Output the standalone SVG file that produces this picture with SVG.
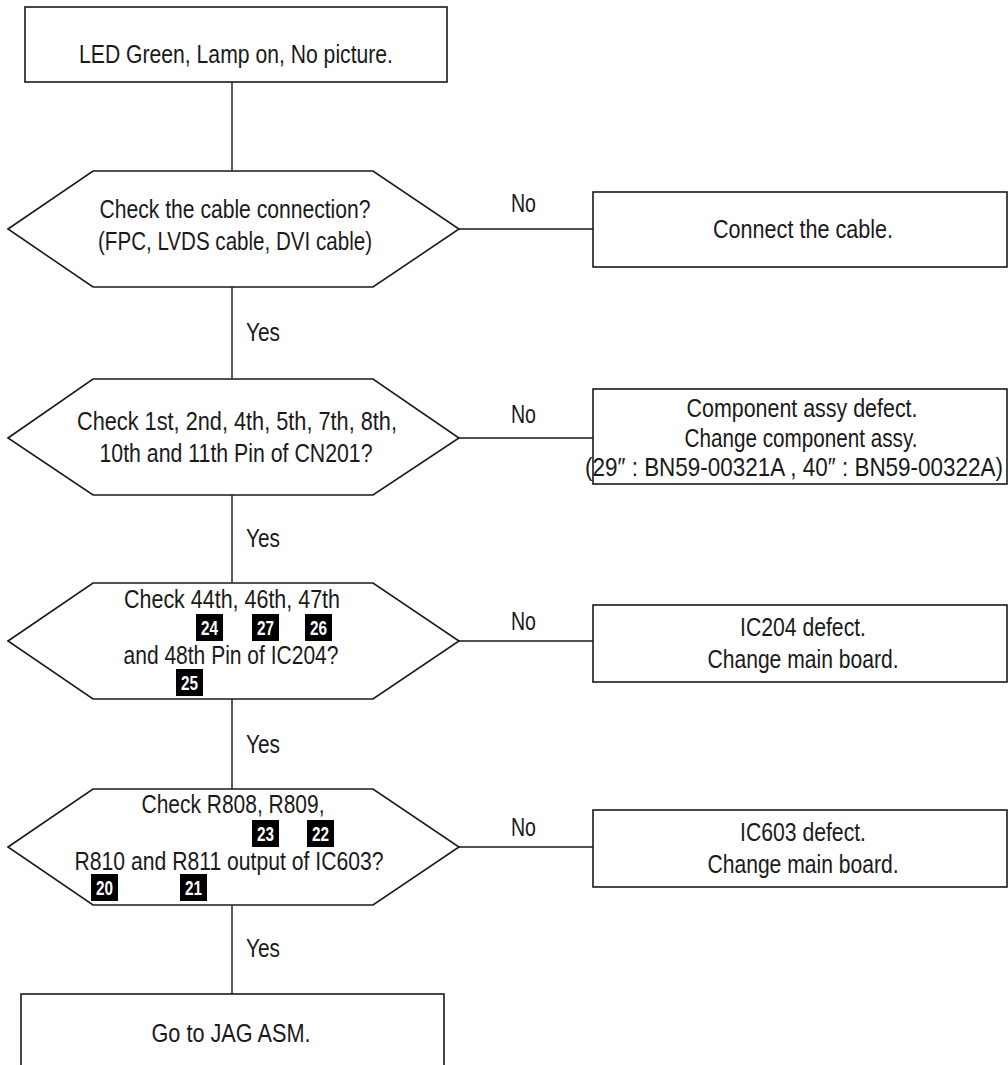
<svg xmlns="http://www.w3.org/2000/svg" width="1008" height="1065" viewBox="0 0 1008 1065">
<style>
.box{fill:#fff;stroke:#1a1a1a;stroke-width:1.6}
.ln{fill:none;stroke:#1a1a1a;stroke-width:1.4}
.t{font-family:"Liberation Sans Narrow","Arial Narrow","Liberation Sans",sans-serif;font-size:26px;fill:#1a1a1a;text-anchor:middle}
.lbl{font-family:"Liberation Sans Narrow","Arial Narrow","Liberation Sans",sans-serif;font-size:26px;fill:#1a1a1a}
.bg{fill:#000}
.bt{font-family:"Liberation Sans Narrow","Arial Narrow","Liberation Sans",sans-serif;font-size:21px;font-weight:bold;fill:#fff;text-anchor:middle}
</style>
<rect width="1008" height="1065" fill="#fff"/>
<g id="connectors">
<path class="ln" d="M232 82V171M232 287V379M232 495V583M232 699V789M232 905V994"/>
<path class="ln" d="M459 229H593M459 438H593M459 641H593M459 847H593"/>
<text class="lbl" x="511" y="212" textLength="25" lengthAdjust="spacingAndGlyphs">No</text>
<text class="lbl" x="511" y="423" textLength="25" lengthAdjust="spacingAndGlyphs">No</text>
<text class="lbl" x="511" y="630" textLength="25" lengthAdjust="spacingAndGlyphs">No</text>
<text class="lbl" x="511" y="836" textLength="25" lengthAdjust="spacingAndGlyphs">No</text>
<text class="lbl" x="246" y="341" textLength="34" lengthAdjust="spacingAndGlyphs">Yes</text>
<text class="lbl" x="246" y="547" textLength="34" lengthAdjust="spacingAndGlyphs">Yes</text>
<text class="lbl" x="246" y="753" textLength="34" lengthAdjust="spacingAndGlyphs">Yes</text>
<text class="lbl" x="246" y="957" textLength="34" lengthAdjust="spacingAndGlyphs">Yes</text>
</g>
<g id="start">
<rect class="box" x="25" y="7" width="422" height="75"/>
<text class="t" x="236" y="63" textLength="314" lengthAdjust="spacingAndGlyphs">LED Green, Lamp on, No picture.</text>
</g>
<g id="check-cable">
<polygon class="box" points="8,229 93,171 373,171 459,229 373,287 93,287"/>
<text class="t" x="235" y="218" textLength="271" lengthAdjust="spacingAndGlyphs">Check the cable connection?</text>
<text class="t" x="235" y="250" textLength="274" lengthAdjust="spacingAndGlyphs">(FPC, LVDS cable, DVI cable)</text>
</g>
<g id="connect-cable">
<rect class="box" x="593" y="192" width="414" height="75"/>
<text class="t" x="803" y="238" textLength="180" lengthAdjust="spacingAndGlyphs">Connect the cable.</text>
</g>
<g id="check-cn201">
<polygon class="box" points="8,438 93,379 373,379 459,438 373,495 93,495"/>
<text class="t" x="237" y="430" textLength="320" lengthAdjust="spacingAndGlyphs">Check 1st, 2nd, 4th, 5th, 7th, 8th,</text>
<text class="t" x="236" y="462" textLength="273" lengthAdjust="spacingAndGlyphs">10th and 11th Pin of CN201?</text>
</g>
<g id="component-defect">
<rect class="box" x="593" y="389" width="414" height="95"/>
<text class="t" x="802" y="417" textLength="231" lengthAdjust="spacingAndGlyphs">Component assy defect.</text>
<text class="t" x="801" y="447" textLength="233" lengthAdjust="spacingAndGlyphs">Change component assy.</text>
<text class="t" x="794" y="476" textLength="418" lengthAdjust="spacingAndGlyphs">(29″ : BN59-00321A , 40″ : BN59-00322A)</text>
</g>
<g id="check-ic204">
<polygon class="box" points="8,641 93,583 373,583 459,641 373,699 93,699"/>
<text class="t" x="232" y="608" textLength="216" lengthAdjust="spacingAndGlyphs">Check 44th, 46th, 47th</text>
<text class="t" x="231" y="664" textLength="215" lengthAdjust="spacingAndGlyphs">and 48th Pin of IC204?</text>
<rect class="bg" x="196" y="614" width="27" height="27"/><text class="bt" x="209.5" y="635" textLength="17" lengthAdjust="spacingAndGlyphs">24</text>
<rect class="bg" x="252" y="614" width="27" height="27"/><text class="bt" x="265.5" y="635" textLength="17" lengthAdjust="spacingAndGlyphs">27</text>
<rect class="bg" x="305" y="614" width="27" height="27"/><text class="bt" x="318.5" y="635" textLength="17" lengthAdjust="spacingAndGlyphs">26</text>
<rect class="bg" x="176" y="669" width="27" height="27"/><text class="bt" x="189.5" y="690" textLength="17" lengthAdjust="spacingAndGlyphs">25</text>
</g>
<g id="ic204-defect">
<rect class="box" x="593" y="605" width="414" height="77"/>
<text class="t" x="803" y="636" textLength="126" lengthAdjust="spacingAndGlyphs">IC204 defect.</text>
<text class="t" x="803" y="668" textLength="191" lengthAdjust="spacingAndGlyphs">Change main board.</text>
</g>
<g id="check-ic603">
<polygon class="box" points="8,847 93,789 373,789 459,847 373,905 93,905"/>
<text class="t" x="233" y="813" textLength="183" lengthAdjust="spacingAndGlyphs">Check R808, R809,</text>
<text class="t" x="229" y="870" textLength="309" lengthAdjust="spacingAndGlyphs">R810 and R811 output of IC603?</text>
<rect class="bg" x="252" y="820" width="27" height="27"/><text class="bt" x="265.5" y="841" textLength="17" lengthAdjust="spacingAndGlyphs">23</text>
<rect class="bg" x="307" y="820" width="27" height="27"/><text class="bt" x="320.5" y="841" textLength="17" lengthAdjust="spacingAndGlyphs">22</text>
<rect class="bg" x="91" y="874" width="27" height="27"/><text class="bt" x="104.5" y="895" textLength="17" lengthAdjust="spacingAndGlyphs">20</text>
<rect class="bg" x="180" y="874" width="27" height="27"/><text class="bt" x="193.5" y="895" textLength="17" lengthAdjust="spacingAndGlyphs">21</text>
</g>
<g id="ic603-defect">
<rect class="box" x="593" y="810" width="414" height="77"/>
<text class="t" x="803" y="841" textLength="126" lengthAdjust="spacingAndGlyphs">IC603 defect.</text>
<text class="t" x="803" y="873" textLength="191" lengthAdjust="spacingAndGlyphs">Change main board.</text>
</g>
<g id="go-jag">
<rect class="box" x="21" y="994" width="423" height="90"/>
<text class="t" x="231" y="1042" textLength="159" lengthAdjust="spacingAndGlyphs">Go to JAG ASM.</text>
</g>
</svg>
